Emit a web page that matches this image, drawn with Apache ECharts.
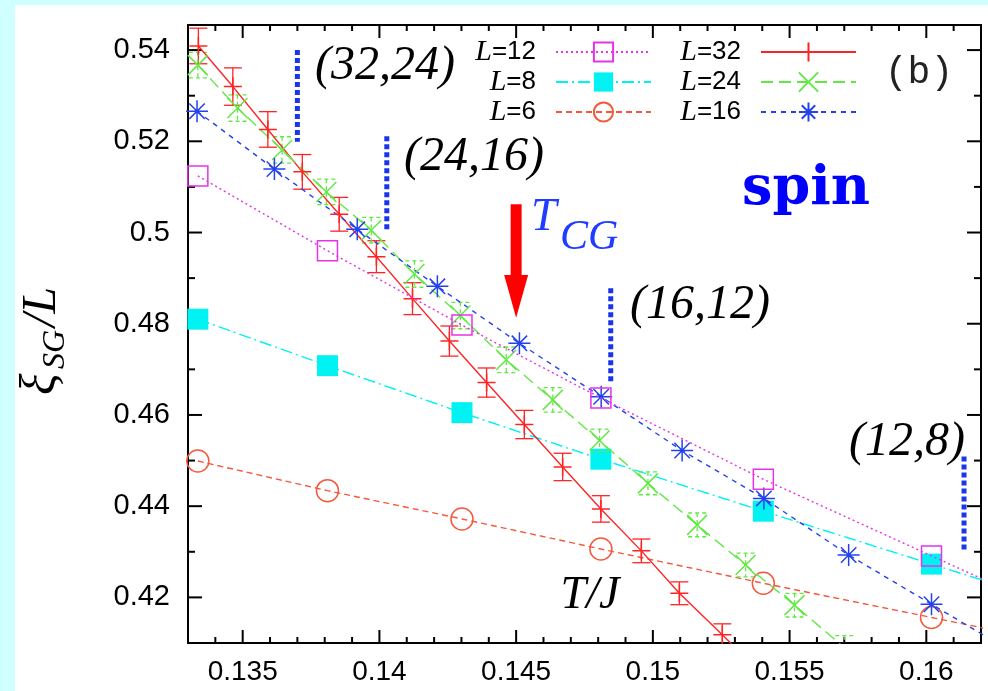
<!DOCTYPE html>
<html><head><meta charset="utf-8">
<script src="https://cdn.jsdelivr.net/npm/echarts@6/dist/echarts.min.js"></script>
<style>
html,body{margin:0;padding:0;background:#cfffff;width:988px;height:691px;overflow:hidden;}
#panel{position:absolute;left:15px;top:5px;width:973px;height:686px;background:#fff;}
#main{position:absolute;left:0;top:0;width:988px;height:691px;}
</style></head><body>
<div id="panel"></div><div id="main"></div>
<script>
// ---------- data (T/J, xi_SG/L) ----------
const T_small = [0.13336, 0.13810, 0.14302, 0.14810, 0.15404, 0.16019, 0.1665];
const V_L12 = [0.5124, 0.4960, 0.4797, 0.4637, 0.4459, 0.4291, 0.4119];
const V_L8  = [0.4810, 0.4708, 0.4605, 0.4503, 0.4389, 0.4273, 0.4154];
const V_L6  = [0.4499, 0.4434, 0.4372, 0.4306, 0.4231, 0.4156, 0.4079];

const T_L16 = [0.13333, 0.13616, 0.13919, 0.14212, 0.14512, 0.14811, 0.15107, 0.15406, 0.15716, 0.16019, 0.1632];
const V_L16 = [0.5266, 0.5139, 0.5007, 0.4882, 0.4757, 0.4640, 0.4522, 0.4417, 0.4293, 0.4185, 0.4078];

const T_L32 = [0.13338, 0.13464, 0.13592, 0.13718, 0.13853, 0.13989, 0.14121, 0.14256, 0.14392, 0.14530, 0.14670, 0.14810, 0.14958, 0.15097, 0.15254, 0.1541];
const V_L32 = [0.5409, 0.5320, 0.5226, 0.5133, 0.5040, 0.4947, 0.4855, 0.4762, 0.4671, 0.4579, 0.4486, 0.4394, 0.4302, 0.4209, 0.4118, 0.4025];
const E_L32 = [0.0039, 0.0041, 0.0039, 0.0038, 0.0037, 0.0035, 0.0035, 0.0033, 0.0032, 0.0031, 0.0030, 0.0029, 0.0026, 0.0025, 0.0024, 0.0024];

const T_L24 = [0.13336, 0.13481, 0.13644, 0.13806, 0.13970, 0.14128, 0.14296, 0.14464, 0.14634, 0.14805, 0.14982, 0.15162, 0.15339, 0.15518, 0.1570];
const V_L24 = [0.5367, 0.5273, 0.5181, 0.5089, 0.5005, 0.4909, 0.4818, 0.4721, 0.4633, 0.4544, 0.4450, 0.4359, 0.4271, 0.4183, 0.4090];
const E_L24 = [0.0028, 0.0029, 0.0029, 0.0028, 0.0028, 0.0029, 0.0029, 0.0028, 0.0027, 0.0025, 0.0025, 0.0026, 0.0026, 0.0026, 0.0026];

// crossing markers (T, top value, bottom value) and T_CG arrow
const crossT      = [0.1370, 0.14027, 0.14846, 0.16138];
const crossTop    = [0.5400, 0.5211, 0.4878, 0.4509];
const crossBottom = [0.5199, 0.5006, 0.4673, 0.4300];
const crossLabels = ['(32,24)', '(24,16)', '(16,12)', '(12,8)'];
const T_CG = 0.145;
const arrowVals = [0.5062, 0.4907, 0.4813]; // top, head base, tip

// axis ticks
const X_MIN = 0.133, X_MAX = 0.162, Y_MIN = 0.41, Y_MAX = 0.5455;
const xMajor = [0.135, 0.14, 0.145, 0.15, 0.155, 0.16];
const yMajor = [0.42, 0.44, 0.46, 0.48, 0.5, 0.52, 0.54];
const xMinor = [0.133, 0.134, 0.136, 0.137, 0.138, 0.139, 0.141, 0.142, 0.143, 0.144, 0.146, 0.147, 0.148, 0.149,
                0.151, 0.152, 0.153, 0.154, 0.156, 0.157, 0.158, 0.159, 0.161];
const yMinor = [0.41, 0.43, 0.45, 0.47, 0.49, 0.51, 0.53];

// ---------- chart ----------
const chart = echarts.init(document.getElementById('main'), null, {renderer: 'canvas'});
const pairs = (T, V) => T.map((t, i) => [t, V[i]]);
const C = {l12: '#e633e6', l8: '#00f2f2', l6: '#f5583c', l32: '#ff2424', l24: '#62e844', l16: '#2342ee'};
const P_PLUS = 'path://M0,5L10,5M5,0L5,10';
const P_X = 'path://M0,0L10,10M10,0L0,10';
const P_STAR = 'path://M0,5L10,5M5,0L5,10M1.5,1.5L8.5,8.5M8.5,1.5L1.5,8.5';

function lineSeries(name, data, color, dash, symbol, size, filled, z) {
  return {
    name, type: 'line', data, z: z || 2,
    symbol, symbolSize: size, showSymbol: true, clip: true,
    lineStyle: {color, width: 1.4, type: dash},
    itemStyle: filled ? {color, borderWidth: 0} : {color: 'rgba(0,0,0,0)', borderColor: color, borderWidth: 1.5},
    emphasis: {disabled: true}, animation: false
  };
}
function errSeries(T, V, E, color, dashed) {
  return {
    type: 'custom', silent: true, z: 3, clip: true, animation: false,
    data: T.map((t, i) => [t, V[i], E[i]]),
    renderItem(params, api) {
      const x = api.value(0), v = api.value(1), e = api.value(2);
      const a = api.coord([x, v + e]), b = api.coord([x, v - e]);
      const hw = 9;
      const st = () => ({stroke: color, lineWidth: 1.3, lineDash: dashed ? [4, 3] : null, fill: null});
      return {type: 'group', children: [
        {type: 'line', shape: {x1: a[0], y1: a[1], x2: b[0], y2: b[1]}, style: st()},
        {type: 'line', shape: {x1: a[0] - hw, y1: a[1], x2: a[0] + hw, y2: a[1]}, style: st()},
        {type: 'line', shape: {x1: b[0] - hw, y1: b[1], x2: b[0] + hw, y2: b[1]}, style: st()}
      ]};
    }
  };
}

// mirrored inward ticks on all four sides (drawn beneath the data marks)
const tickData = [];
xMinor.forEach(v => tickData.push([v, Y_MIN, 0, 6]));
xMajor.forEach(v => tickData.push([v, Y_MIN, 0, 13]));
yMinor.forEach(v => tickData.push([X_MIN, v, 1, 7]));
yMajor.forEach(v => tickData.push([X_MIN, v, 1, 14]));
const tickSeries = {
  type: 'custom', silent: true, z: 1, clip: false, animation: false,
  data: tickData,
  renderItem(params, api) {
    const isY = api.value(2) === 1, len = api.value(3);
    const st = () => ({stroke: '#000', lineWidth: 2});
    if (!isY) {
      const v = api.value(0);
      const b = api.coord([v, Y_MIN]), t = api.coord([v, Y_MAX]);
      return {type: 'group', children: [
        {type: 'line', shape: {x1: b[0], y1: b[1], x2: b[0], y2: b[1] - len}, style: st()},
        {type: 'line', shape: {x1: t[0], y1: t[1], x2: t[0], y2: t[1] + len}, style: st()}
      ]};
    }
    const v = api.value(1);
    const l = api.coord([X_MIN, v]), r = api.coord([X_MAX, v]);
    return {type: 'group', children: [
      {type: 'line', shape: {x1: l[0], y1: l[1], x2: l[0] + len, y2: l[1]}, style: st()},
      {type: 'line', shape: {x1: r[0], y1: r[1], x2: r[0] - len, y2: r[1]}, style: st()}
    ]};
  }
};

const fmtX = v => (Math.abs(v * 200 - Math.round(v * 200)) < 1e-6) ? String(+v.toFixed(3)) : '';
const fmtY = v => (Math.abs(v * 50 - Math.round(v * 50)) < 1e-6) ? String(+v.toFixed(2)) : '';
const lineOn = {show: true, onZero: false, lineStyle: {color: '#000', width: 2}};

const legendRich = {
  i: {fontFamily: '"Liberation Serif", serif', fontStyle: 'italic', fontSize: 30, color: '#000'},
  n: {fontFamily: '"Liberation Sans", Arial, sans-serif', fontSize: 26, color: '#000'}
};
const legendBase = {
  orient: 'vertical', align: 'right', top: 37, itemWidth: 95, itemHeight: 24, itemGap: 0,
  padding: 0, selectedMode: false,
  formatter: name => '{i|L}{n|' + name.slice(1) + '}',
  textStyle: {rich: legendRich, padding: [0, 15, 0, 0]}
};

const option = {
  animation: false,
  grid: {left: 188, right: 7, top: 25, bottom: 48, containLabel: false, outerBoundsMode: 'none'},
  legend: [
    Object.assign({}, legendBase, {right: 336, data: ['L=12', 'L=8', 'L=6']}),
    Object.assign({}, legendBase, {right: 131, data: ['L=32', 'L=24', 'L=16']})
  ],
  xAxis: [
    {type: 'value', min: X_MIN, max: X_MAX, position: 'bottom', interval: 0.001, splitLine: {show: false},
      axisLine: lineOn, axisTick: {show: false},
      axisLabel: {show: true, margin: 15, formatter: fmtX, color: '#000', fontSize: 28, fontFamily: '"Liberation Sans", Arial, sans-serif'}},
    {type: 'value', min: X_MIN, max: X_MAX, position: 'top', splitLine: {show: false},
      axisLine: lineOn, axisTick: {show: false}, axisLabel: {show: false}}
  ],
  yAxis: [
    {type: 'value', min: Y_MIN, max: Y_MAX, position: 'left', interval: 0.01, splitLine: {show: false},
      axisLine: lineOn, axisTick: {show: false},
      axisLabel: {show: true, margin: 18, formatter: fmtY, color: '#000', fontSize: 29, fontFamily: '"Liberation Sans", Arial, sans-serif'}},
    {type: 'value', min: Y_MIN, max: Y_MAX, position: 'right', splitLine: {show: false},
      axisLine: lineOn, axisTick: {show: false}, axisLabel: {show: false}}
  ],
  series: [
    tickSeries,
    lineSeries('L=12', pairs(T_small, V_L12), C.l12, [2, 3], 'rect', 20, false, 4),
    lineSeries('L=8', pairs(T_small, V_L8), C.l8, [12, 4, 2, 4], 'rect', 21, true, 2),
    lineSeries('L=6', pairs(T_small, V_L6), C.l6, [6, 4], 'circle', 22, false, 2),
    lineSeries('L=32', pairs(T_L32, V_L32), C.l32, 'solid', P_PLUS, 18, false, 3),
    lineSeries('L=24', pairs(T_L24, V_L24), C.l24, [12, 6], P_X, 20, false, 3),
    lineSeries('L=16', pairs(T_L16, V_L16), C.l16, [5, 5], P_STAR, 22, false, 3),
    errSeries(T_L32, V_L32, E_L32, C.l32, false),
    errSeries(T_L24, V_L24, E_L24, C.l24, true),
    {
      type: 'custom', silent: true, z: 5, clip: false, animation: false,
      data: crossT.map((t, i) => [t, crossTop[i], crossBottom[i]]),
      renderItem(params, api) {
        const a = api.coord([api.value(0), api.value(1)]);
        const b = api.coord([api.value(0), api.value(2)]);
        return {type: 'line', shape: {x1: a[0], y1: a[1], x2: b[0], y2: b[1]},
          style: {stroke: '#1a36ea', lineWidth: 5, lineDash: [5, 3]}};
      }
    },
    {
      type: 'custom', silent: true, z: 6, clip: false, animation: false,
      data: [[T_CG, arrowVals[0], arrowVals[1], arrowVals[2]]],
      renderItem(params, api) {
        const t = api.value(0);
        const top = api.coord([t, api.value(1)]);
        const base = api.coord([t, api.value(2)]);
        const tip = api.coord([t, api.value(3)]);
        return {type: 'group', children: [
          {type: 'rect', shape: {x: top[0] - 5.5, y: top[1], width: 11, height: base[1] - top[1] + 1}, style: {fill: '#ff0000'}},
          {type: 'polygon', shape: {points: [[base[0] - 12, base[1]], [base[0] + 12, base[1]], [tip[0], tip[1]]]}, style: {fill: '#ff0000'}}
        ]};
      }
    }
  ],
  graphic: [
    {type: 'text', x: 385, y: 66, z: 10, style: {text: crossLabels[0], font: 'italic 48px "Liberation Serif", serif', fill: '#000', align: 'center', verticalAlign: 'middle', textAlign: 'center', textVerticalAlign: 'middle'}},
    {type: 'text', x: 474, y: 157, z: 10, style: {text: crossLabels[1], font: 'italic 48px "Liberation Serif", serif', fill: '#000', align: 'center', verticalAlign: 'middle', textAlign: 'center', textVerticalAlign: 'middle'}},
    {type: 'text', x: 700, y: 305, z: 10, style: {text: crossLabels[2], font: 'italic 48px "Liberation Serif", serif', fill: '#000', align: 'center', verticalAlign: 'middle', textAlign: 'center', textVerticalAlign: 'middle'}},
    {type: 'text', x: 907, y: 442, z: 10, style: {text: crossLabels[3], font: 'italic 48px "Liberation Serif", serif', fill: '#000', align: 'center', verticalAlign: 'middle', textAlign: 'center', textVerticalAlign: 'middle'}},
    {type: 'text', x: 919, y: 73, z: 10, style: {text: '(b)', font: '38px "Liberation Mono", monospace', fill: '#222', align: 'center', verticalAlign: 'middle', textAlign: 'center', textVerticalAlign: 'middle'}},
    {type: 'text', x: 806, y: 190, z: 10, style: {text: 'spin', font: 'bold 54px "DejaVu Serif", serif', fill: '#0000ff', align: 'center', verticalAlign: 'middle', textAlign: 'center', textVerticalAlign: 'middle'}},
    {type: 'text', x: 531, y: 218, z: 10, style: {text: 'T', font: 'italic 46px "Liberation Serif", serif', fill: '#1f3cff', align: 'left', verticalAlign: 'middle', textAlign: 'left', textVerticalAlign: 'middle'}},
    {type: 'text', x: 560, y: 238, z: 10, style: {text: 'CG', font: 'italic 42px "Liberation Serif", serif', fill: '#1f3cff', align: 'left', verticalAlign: 'middle', textAlign: 'left', textVerticalAlign: 'middle'}},
    {type: 'text', x: 590, y: 596, z: 10, style: {text: 'T/J', font: 'italic 46px "Liberation Serif", serif', fill: '#000', align: 'center', verticalAlign: 'middle', textAlign: 'center', textVerticalAlign: 'middle'}},
    {type: 'group', x: 42, y: 395, rotation: Math.PI / 2, z: 10, children: [
      {type: 'text', x: 0, y: 0, style: {text: 'ξ', font: 'italic 50px "Liberation Serif", serif', fill: '#000', align: 'left', verticalAlign: 'middle', textAlign: 'left', textVerticalAlign: 'middle'}},
      {type: 'text', x: 26, y: 14, style: {text: 'SG', font: 'italic 32px "Liberation Serif", serif', fill: '#000', align: 'left', verticalAlign: 'middle', textAlign: 'left', textVerticalAlign: 'middle'}},
      {type: 'text', x: 68, y: 0, style: {text: '/L', font: 'italic 48px "Liberation Serif", serif', fill: '#000', align: 'left', verticalAlign: 'middle', textAlign: 'left', textVerticalAlign: 'middle'}}
    ]}
  ]
};
chart.setOption(option);
</script>
</body></html>
